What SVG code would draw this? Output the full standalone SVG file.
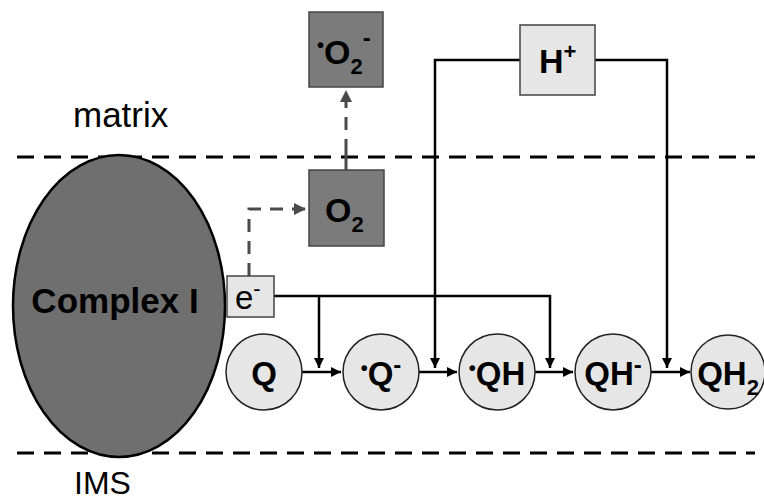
<svg xmlns="http://www.w3.org/2000/svg" width="764" height="500" viewBox="0 0 764 500">
<style>
.t{font-family:"Liberation Sans",Arial,sans-serif;fill:#000}
.b{font-weight:bold}
.mem{stroke:#000;stroke-width:3;stroke-dasharray:17 10;fill:none}
.ln{stroke:#000;stroke-width:2.5;fill:none}
.dg{stroke:#4a4a4a;stroke-width:3;stroke-dasharray:13 9;fill:none}
.circ{fill:#e6e6e6;stroke:#222;stroke-width:1.5}
.lbox{fill:#e6e6e6;stroke:#444;stroke-width:1.5}
.dbox{fill:#7b7b7b;stroke:#444;stroke-width:1.5}
</style>
<defs>
<marker id="ah" viewBox="0 0 10 10" refX="10" refY="5" markerWidth="4" markerHeight="4" orient="auto" markerUnits="strokeWidth"><path d="M0,0 L10,5 L0,10 z" fill="#000"/></marker>
<marker id="ahg" viewBox="0 0 10 10" refX="10" refY="5" markerWidth="4" markerHeight="4" orient="auto" markerUnits="strokeWidth"><path d="M0,0 L10,5 L0,10 z" fill="#4a4a4a"/></marker>
</defs>
<rect width="764" height="500" fill="#fff"/>
<g id="membranes">
<line class="mem" x1="17" y1="157" x2="755" y2="157"/>
<line class="mem" x1="17" y1="453" x2="755" y2="453"/>
<text class="t" x="73" y="127" font-size="35">matrix</text>
<text class="t" x="74" y="494" font-size="32">IMS</text>
</g>
<g id="connectors">
<path class="dg" d="M249,276 V209 H306" marker-end="url(#ahg)"/>
<line x1="346" y1="170" x2="346" y2="152" stroke="#4a4a4a" stroke-width="3"/>
<path class="dg" d="M346,152 V90" marker-end="url(#ahg)"/>
<path class="ln" d="M274,296 H550 V368" marker-end="url(#ah)"/>
<path class="ln" d="M319,296 V368" marker-end="url(#ah)"/>
<path class="ln" d="M520,60 H435 V368" marker-end="url(#ah)"/>
<path class="ln" d="M595,60 H667 V368" marker-end="url(#ah)"/>
<line class="ln" x1="302" y1="372" x2="341" y2="372" marker-end="url(#ah)"/>
<line class="ln" x1="419" y1="372" x2="457" y2="372" marker-end="url(#ah)"/>
<line class="ln" x1="535" y1="372" x2="573" y2="372" marker-end="url(#ah)"/>
<line class="ln" x1="651" y1="372" x2="690" y2="372" marker-end="url(#ah)"/>
</g>
<g id="complexI">
<ellipse cx="119" cy="306" rx="106" ry="151" fill="#6f6f6f" stroke="#000" stroke-width="2.5"/>
<text class="t b" x="115" y="313" font-size="35" text-anchor="middle">Complex I</text>
</g>
<g id="e">
<rect class="lbox" x="227" y="276" width="47" height="41"/>
<text class="t" x="235" y="309" font-size="33">e<tspan font-size="22" dy="-13">-</tspan></text>
</g>
<g id="O2">
<rect class="dbox" x="309" y="170" width="75" height="76"/>
<text class="t b" x="325" y="222" font-size="34">O<tspan font-size="22" dy="10">2</tspan></text>
</g>
<g id="superoxide">
<rect class="dbox" x="309" y="12" width="74" height="75"/>
<text class="t b" x="317" y="64" font-size="34"><tspan font-size="20" dy="-12">•</tspan><tspan dy="12">O</tspan><tspan font-size="22" dy="10">2</tspan><tspan font-size="24" dy="-28">-</tspan></text>
</g>
<g id="Hplus">
<rect class="lbox" x="520" y="25" width="75" height="70"/>
<text class="t b" x="539" y="73" font-size="34">H<tspan font-size="22" dy="-14">+</tspan></text>
</g>
<g id="Q">
<circle class="circ" cx="264" cy="372" r="38"/>
<text class="t b" x="264" y="385" font-size="33" text-anchor="middle">Q</text>
</g>
<g id="Qsemi">
<circle class="circ" cx="381" cy="372" r="38"/>
<text class="t b" x="381" y="385" font-size="33" text-anchor="middle"><tspan font-size="20" dy="-10">•</tspan><tspan dy="10">Q</tspan><tspan font-size="24" dy="-12">-</tspan></text>
</g>
<g id="QH">
<circle class="circ" cx="497" cy="372" r="38"/>
<text class="t b" x="497" y="385" font-size="33" text-anchor="middle"><tspan font-size="20" dy="-10">•</tspan><tspan dy="10">QH</tspan></text>
</g>
<g id="QHminus">
<circle class="circ" cx="613" cy="372" r="38"/>
<text class="t b" x="613" y="385" font-size="33" text-anchor="middle">QH<tspan font-size="24" dy="-12">-</tspan></text>
</g>
<g id="QH2">
<circle class="circ" cx="728" cy="372" r="37"/>
<text class="t b" x="728" y="385" font-size="33" text-anchor="middle">QH<tspan font-size="22" dy="10">2</tspan></text>
</g>
</svg>
